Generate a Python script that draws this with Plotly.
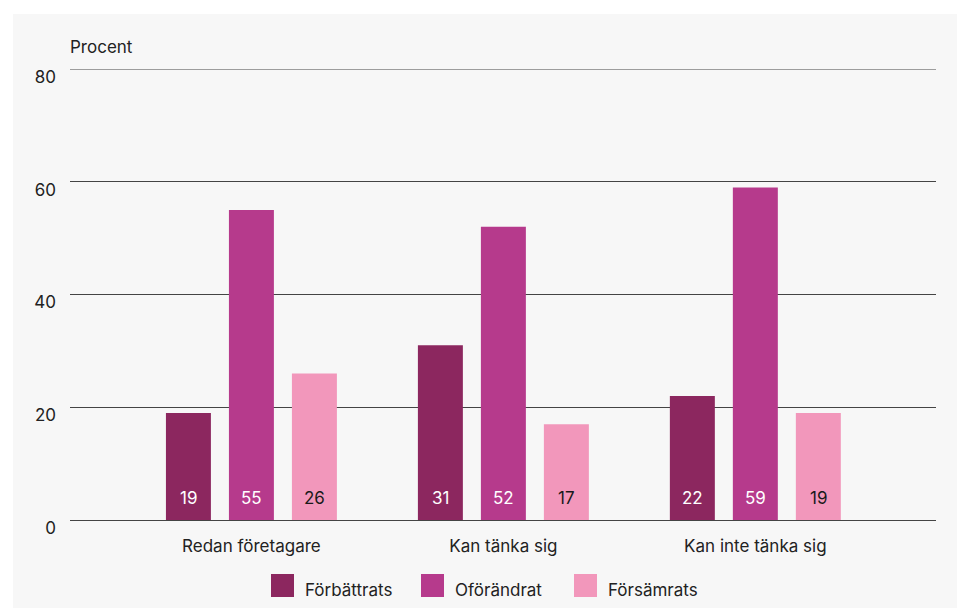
import plotly.graph_objects as go

# Data
categories = ["Redan företagare", "Kan tänka sig", "Kan inte tänka sig"]
series_names = ["Förbättrats", "Oförändrat", "Försämrats"]
forbattrats = [19, 31, 22]
oforandrat = [55, 52, 59]
forsamrats = [26, 17, 19]
y_ticks = [0, 20, 40, 60, 80]

colors = ["#8c275f", "#b63a8c", "#f297bb"]
label_colors = ["#ffffff", "#ffffff", "#1a1a1a"]
series_values = [forbattrats, oforandrat, forsamrats]

W, H = 957, 608
ML, MR, MT, MB = 70, 21, 69, 88
PW, PH = W - ML - MR, H - MT - MB

def px_x(x):
    return (x - ML) / PW

def px_y(y):
    return (H - MB - y) / PH

FONT = "Inter, Lato, sans-serif"
TXT = "#222222"
GRID = "#444444"

fig = go.Figure()
for name, vals, col in zip(series_names, series_values, colors):
    fig.add_trace(go.Bar(
        name=name, x=categories, y=vals, marker=dict(color=col, line=dict(width=0)),
        showlegend=False, hoverinfo="x+y+name",
    ))

# value labels near the base of each bar
offsets = [-63, 0, 63]
for vals, off, lc in zip(series_values, offsets, label_colors):
    for cat, v in zip(categories, vals):
        fig.add_annotation(x=cat, y=0, text=str(v), showarrow=False, xshift=off,
                           yanchor="bottom", yshift=10,
                           font=dict(family=FONT, size=17, color=lc))

shapes = [
    # light panel behind the chart
    dict(type="rect", xref="paper", yref="paper", x0=px_x(13), x1=px_x(W + 2),
         y0=px_y(H + 2), y1=px_y(14), fillcolor="#f7f7f7", line=dict(width=0), layer="below"),
    # top gridline at the range edge
    dict(type="line", xref="paper", yref="y", x0=0, x1=1, y0=y_ticks[-1], y1=y_ticks[-1],
         line=dict(color=GRID, width=1), layer="below"),
]

# custom legend
leg_x = [271, 421, 574]
for name, col, lx in zip(series_names, colors, leg_x):
    shapes.append(dict(type="rect", xref="paper", yref="paper", x0=px_x(lx), x1=px_x(lx + 23),
                       y0=px_y(597), y1=px_y(574), fillcolor=col, line=dict(width=0)))
    fig.add_annotation(xref="paper", yref="paper", x=px_x(lx + 32), y=px_y(590), text=name,
                       showarrow=False, xanchor="left", yanchor="middle",
                       font=dict(family=FONT, size=17, color=TXT))

fig.add_annotation(xref="paper", yref="paper", x=px_x(68), y=px_y(47), text="Procent",
                   showarrow=False, xanchor="left", yanchor="middle",
                   font=dict(family=FONT, size=17, color=TXT))

fig.update_layout(
    width=W, height=H,
    margin=dict(l=ML, r=MR, t=MT, b=MB, pad=0),
    paper_bgcolor="#ffffff", plot_bgcolor="rgba(0,0,0,0)",
    barmode="group", bargap=0.25, bargroupgap=0.286,
    shapes=shapes,
    font=dict(family=FONT, size=16, color=TXT),
    xaxis=dict(range=[-0.72, 2.717], showgrid=False, zeroline=False, showline=False,
               ticks="", tickfont=dict(size=17, color=TXT), ticklabelstandoff=14),
    yaxis=dict(range=[0, 80], tickvals=y_ticks, showgrid=True, gridcolor=GRID, gridwidth=1,
               zeroline=True, zerolinecolor=GRID, zerolinewidth=1, showline=False,
               ticks="", tickfont=dict(size=17, color=TXT), ticklabelstandoff=13,
               ticklabelshift=8),
)

fig.write_html("out.html")
